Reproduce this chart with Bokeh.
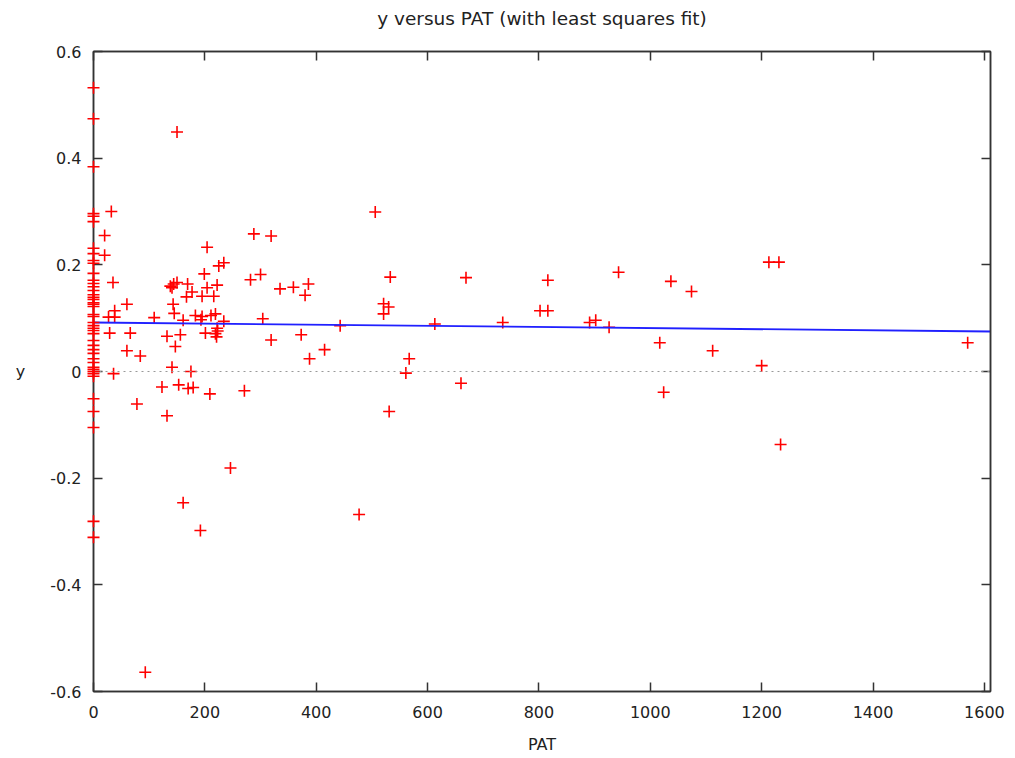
import numpy as np
from bokeh.plotting import figure
from bokeh.models import (Range1d, FixedTicker, LinearAxis, Span, CustomJSTickFormatter,
                          CustomLabelingPolicy, ColumnDataSource)
from bokeh.embed import file_html
from bokeh.resources import INLINE

# Observations with PAT == 0
zero_pat_y = [0.532, 0.474, 0.384, 0.296, 0.291, 0.281, 0.231, 0.221, 0.208, 0.203,
              0.184, 0.171, 0.165, 0.159, 0.152, 0.144, 0.139, 0.135, 0.129, 0.126,
              0.122, 0.107, 0.103, 0.092, 0.086, 0.081, 0.077, 0.071, 0.058, 0.049,
              0.041, 0.034, 0.024, 0.017, 0.008, 0.004, 0.0, -0.004, -0.009, -0.051,
              -0.075, -0.105, -0.281, -0.311]

# Observations with PAT > 0
pat_pos = [150, 32, 20, 20, 35, 60, 38, 27, 38, 29, 66, 60, 84, 36, 78, 93, 109, 132, 132, 123,
           141, 147, 143, 145, 153, 156, 161, 161, 170, 179, 175, 192, 138, 144, 150, 141, 169, 167, 177, 195,
           216, 204, 222, 204, 234, 225, 199, 183, 195, 193, 211, 219, 234, 222, 223, 219, 221, 201, 209, 271,
           246, 288, 319, 282, 300, 304, 319, 335, 359, 386, 380, 373, 388, 415, 443, 506, 521, 530, 521, 533,
           531, 477, 561, 567, 613, 660, 669, 735, 802, 816, 816, 891, 902, 926, 943, 1017, 1024, 1037, 1074, 1112,
           1200, 1213, 1231, 1234, 1570]
y_pos = [0.449, 0.300, 0.255, 0.218, 0.167, 0.126, 0.114, 0.102, 0.102, 0.072, 0.072, 0.039, 0.029, -0.004, -0.061, -0.564, 0.101, 0.066, -0.083, -0.029,
         0.008, 0.047, 0.126, 0.109, -0.025, 0.069, 0.096, -0.246, -0.032, -0.030, 0.0, -0.298, 0.160, 0.164, 0.167, 0.157, 0.164, 0.140, 0.149, 0.141,
         0.141, 0.157, 0.162, 0.233, 0.204, 0.198, 0.183, 0.105, 0.103, 0.097, 0.105, 0.108, 0.094, 0.081, 0.076, 0.071, 0.065, 0.072, -0.042, -0.036,
         -0.181, 0.258, 0.254, 0.172, 0.182, 0.099, 0.059, 0.155, 0.158, 0.164, 0.143, 0.069, 0.024, 0.041, 0.086, 0.299, 0.127, 0.121, 0.108, 0.177,
         -0.075, -0.268, -0.003, 0.024, 0.089, -0.022, 0.176, 0.092, 0.114, 0.114, 0.171, 0.092, 0.096, 0.083, 0.186, 0.054, -0.039, 0.169, 0.150, 0.039,
         0.011, 0.205, 0.205, -0.137, 0.054]

# Least squares line y = a + b * PAT
fit_intercept = 0.0919
fit_slope = -1.05e-5

x_ticks = [0, 200, 400, 600, 800, 1000, 1200, 1400, 1600]
y_ticks = [-0.6, -0.4, -0.2, 0.0, 0.2, 0.4, 0.6]
x_max = 1611
title_text = "y versus PAT (with least squares fit)"

FONT = "DejaVu Sans"
TEXT_COLOR = "#222222"
FRAME_COLOR = "#333333"

p = figure(width=1015, height=758, output_backend="svg", toolbar_location=None,
           title=None,
           x_range=Range1d(0, x_max), y_range=Range1d(-0.6, 0.6),
           x_axis_location=None, y_axis_location=None,
           min_border_left=93, min_border_right=24, min_border_top=51, min_border_bottom=67,
           background_fill_color="white", border_fill_color="white")
p.grid.visible = False
p.outline_line_color = FRAME_COLOR
p.outline_line_width = 1.5

y_fmt = CustomJSTickFormatter(code="return Math.abs(tick) < 1e-9 ? '0' : tick.toFixed(1);")
# mirrored axes on top/right carry tick marks only
no_labels = CustomLabelingPolicy(code="for (const i of indices) indices.unset(i); return indices;")


def style_axis(ax, ticks, show_labels):
    ax.ticker = FixedTicker(ticks=ticks)
    ax.minor_tick_line_color = None
    ax.major_tick_in = 9
    ax.major_tick_out = 0
    ax.major_tick_line_color = FRAME_COLOR
    ax.major_tick_line_width = 1.5
    ax.axis_line_color = FRAME_COLOR
    ax.axis_line_width = 1.5
    ax.axis_label_text_font = FONT
    ax.axis_label_text_font_style = "normal"
    ax.axis_label_text_color = TEXT_COLOR
    ax.axis_label_text_font_size = "16px"
    if show_labels:
        ax.major_label_text_font = FONT
        ax.major_label_text_font_size = "16px"
        ax.major_label_text_color = TEXT_COLOR
    else:
        ax.major_label_policy = no_labels
        ax.major_label_standoff = 0


bottom = LinearAxis(axis_label="PAT")
style_axis(bottom, x_ticks, True)
bottom.major_label_standoff = 14
bottom.axis_label_standoff = 14
p.add_layout(bottom, "below")

left = LinearAxis(axis_label="y", formatter=y_fmt)
style_axis(left, y_ticks, True)
left.major_label_standoff = 12
left.axis_label_standoff = 22
left.axis_label_orientation = "horizontal"
p.add_layout(left, "left")

# top axis: mirrored ticks, with the chart heading as its label
top = LinearAxis(axis_label=title_text)
style_axis(top, x_ticks, False)
top.axis_label_text_font_size = "18.5px"
top.axis_label_standoff = 12
p.add_layout(top, "above")

right = LinearAxis()
style_axis(right, y_ticks, False)
p.add_layout(right, "right")

# Dotted zero reference line
p.add_layout(Span(location=0, dimension="width", line_color="#999999",
                  line_width=1.2, line_dash="2 4"))

# Scatter points
marker_kw = dict(marker="cross", size=12, line_color="#ff0000", line_width=1.6)
pos_src = ColumnDataSource(data=dict(x=pat_pos, y=y_pos))
p.scatter("x", "y", source=pos_src, **marker_kw)
zero_src = ColumnDataSource(data=dict(x=[0] * len(zero_pat_y), y=zero_pat_y))
p.scatter("x", "y", source=zero_src, level="overlay", **marker_kw)

# Fitted line
fit_x = np.array([0, x_max])
fit_y = fit_intercept + fit_slope * fit_x
p.line(fit_x, fit_y, line_color="#2020ff", line_width=1.8)

open("out.html", "w").write(file_html(p, INLINE))
